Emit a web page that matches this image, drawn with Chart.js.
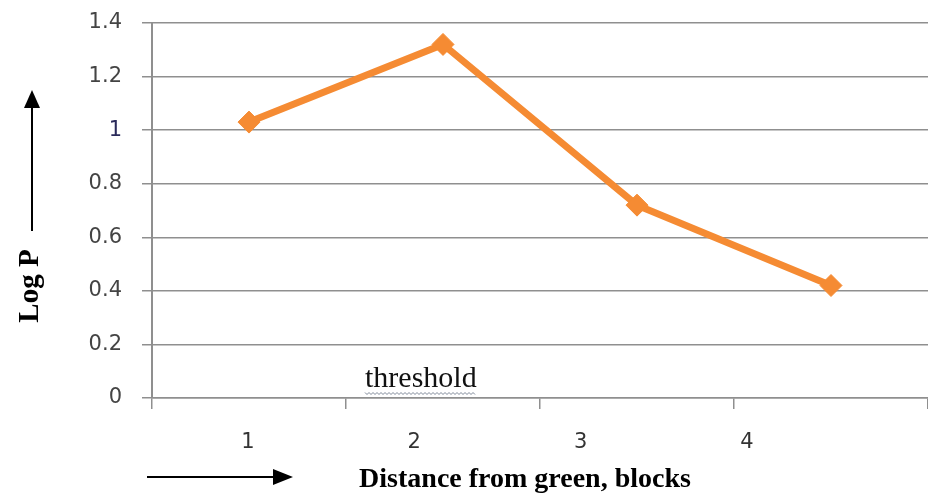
<!DOCTYPE html>
<html>
<head>
<meta charset="utf-8">
<script src="https://cdn.jsdelivr.net/npm/chart.js@4/dist/chart.umd.min.js"></script>
<style>
  html, body { margin: 0; padding: 0; background: #ffffff; }
  #wrap { width: 928px; height: 494px; position: relative; }
</style>
</head>
<body>
<div id="wrap"><canvas id="chart" width="928" height="494"></canvas></div>
<script>
// Distance from the green (in blocks) and the measured Log P at each distance
const categories = ['1', '2', '3', '4'];
const logP = [1.03, 1.32, 0.72, 0.42];
const yTicks = [0, 0.2, 0.4, 0.6, 0.8, 1, 1.2, 1.4];

const ORANGE = '#F58B33';
const GRID = '#8f8f8f';

// Arrows, rotated/axis captions and the "threshold" note
const annotations = {
  id: 'annotations',
  afterDraw(chart) {
    const ctx = chart.ctx;
    const area = chart.chartArea;
    ctx.save();

    // vertical arrow beside the y caption
    ctx.strokeStyle = '#000';
    ctx.fillStyle = '#000';
    ctx.lineWidth = 2;
    ctx.beginPath();
    ctx.moveTo(32, 231);
    ctx.lineTo(32, 104);
    ctx.stroke();
    ctx.beginPath();
    ctx.moveTo(32, 90);
    ctx.lineTo(24, 108);
    ctx.lineTo(40, 108);
    ctx.closePath();
    ctx.fill();

    // y caption, reading bottom to top
    ctx.save();
    ctx.translate(31, 286);
    ctx.rotate(-Math.PI / 2);
    ctx.font = 'bold 29px "Liberation Serif", "Times New Roman", serif';
    ctx.textAlign = 'center';
    ctx.textBaseline = 'middle';
    ctx.fillText('Log P', 0, 0);
    ctx.restore();

    // horizontal arrow before the x caption
    ctx.beginPath();
    ctx.moveTo(147, 477);
    ctx.lineTo(278, 477);
    ctx.stroke();
    ctx.beginPath();
    ctx.moveTo(293, 477);
    ctx.lineTo(273, 469);
    ctx.lineTo(273, 485);
    ctx.closePath();
    ctx.fill();

    // x caption
    ctx.font = 'bold 28px "Liberation Serif", "Times New Roman", serif';
    ctx.textAlign = 'center';
    ctx.textBaseline = 'alphabetic';
    ctx.fillText('Distance from green, blocks', 525, 487);

    // threshold note with its squiggly underline
    const tx = area.left + 213;
    const ty = 387;
    ctx.font = '30px "Liberation Serif", "Times New Roman", serif';
    ctx.textAlign = 'left';
    ctx.fillStyle = '#111';
    ctx.fillText('threshold', tx, ty);
    const w = ctx.measureText('threshold').width;
    ctx.strokeStyle = '#7d8797';
    ctx.lineWidth = 1;
    ctx.beginPath();
    for (let x = 0, i = 0; x <= w; x += 2, i++) {
      const y = ty + 6 + (i % 2 ? 1.5 : -0.5);
      if (i === 0) ctx.moveTo(tx + x, y); else ctx.lineTo(tx + x, y);
    }
    ctx.stroke();

    ctx.restore();
  }
};

new Chart(document.getElementById('chart'), {
  type: 'line',
  data: {
    labels: categories,
    datasets: [{
      data: logP,
      borderColor: ORANGE,
      backgroundColor: ORANGE,
      borderWidth: 7,
      pointStyle: 'rectRot',
      pointRadius: 11,
      pointBorderWidth: 1,
      pointBackgroundColor: ORANGE,
      pointBorderColor: ORANGE,
      tension: 0,
      fill: false,
      clip: false
    }]
  },
  options: {
    responsive: false,
    animation: false,
    layout: { autoPadding: false, padding: { top: 23, right: 0, left: 0, bottom: 0 } },
    plugins: { legend: { display: false }, tooltip: { enabled: false } },
    scales: {
      x: {
        type: 'category',
        position: 'bottom',
        weight: 0,
        offset: true,
        grid: { display: true, drawOnChartArea: false, drawTicks: true, tickLength: 11, offset: true, color: GRID, lineWidth: 1.5 },
        border: { display: true, color: GRID, width: 1.5 },
        ticks: { display: false },
        afterFit(scale) { scale.height = 12; }
      },
      xl: {
        type: 'linear',
        position: 'bottom',
        weight: 1,
        min: 0.423,
        max: 5.089,
        grid: { display: false, drawTicks: false },
        border: { display: false },
        afterBuildTicks(scale) {
          scale.ticks = categories.map((c, i) => ({ value: i + 1 }));
        },
        ticks: {
          padding: 20,
          color: '#333333',
          font: { family: '"DejaVu Sans", sans-serif', size: 21 },
          callback: (v) => categories[v - 1]
        },
        afterFit(scale) {
          scale.height = 84;
          scale.paddingLeft = 0;
          scale.paddingRight = 0;
        }
      },
      y: {
        min: 0,
        max: 1.4,
        afterBuildTicks(scale) {
          scale.ticks = yTicks.map(v => ({ value: v }));
        },
        grid: { color: GRID, lineWidth: 1.5, drawTicks: true, tickLength: 10 },
        border: { display: true, color: GRID, width: 2 },
        ticks: {
          padding: 20,
          color: (c) => (c.tick && c.tick.value === 1 ? '#2a2a5a' : '#444444'),
          font: { family: '"DejaVu Sans", sans-serif', size: 21 },
          callback: (v) => String(v)
        },
        afterFit(scale) {
          scale.width = 152;
          scale.paddingTop = 0;
          scale.paddingBottom = 0;
        }
      }
    }
  },
  plugins: [annotations]
});
</script>
</body>
</html>
